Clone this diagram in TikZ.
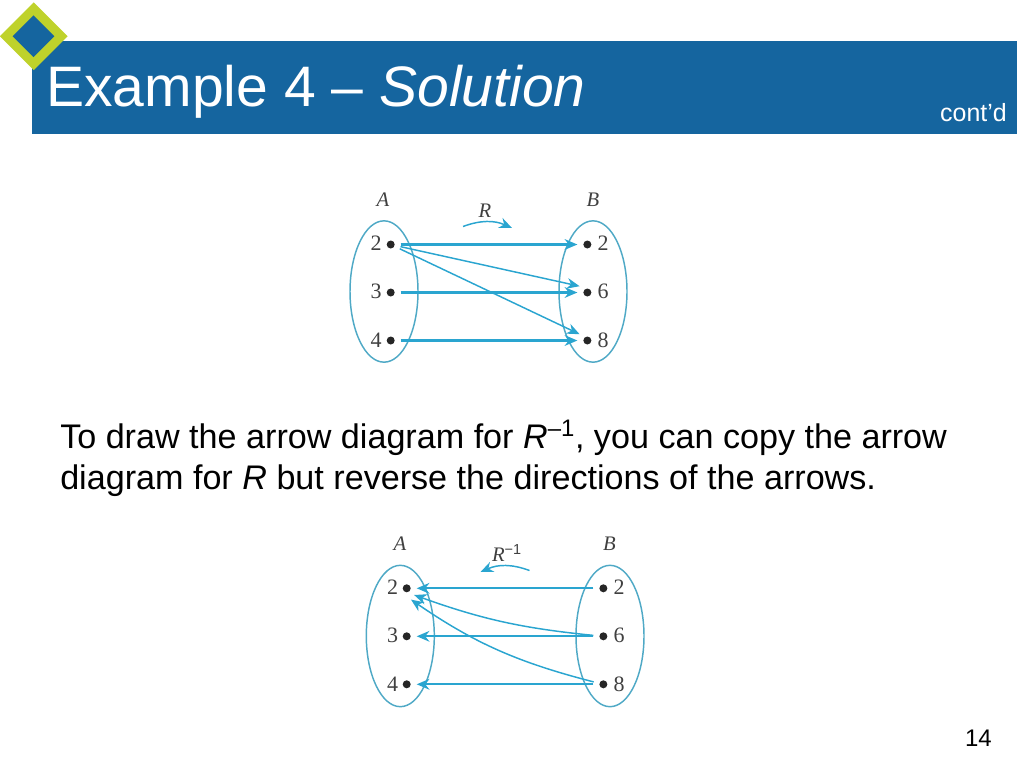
\documentclass[tikz,border=0pt]{standalone}
\usepackage{fontspec}
\setmainfont{Liberation Sans}
\newfontfamily\figfont{Liberation Serif}
\usetikzlibrary{arrows.meta,shapes.geometric}
\definecolor{bandblue}{HTML}{15659F}
\definecolor{limegreen}{HTML}{BFD22B}
\definecolor{arrowblue}{HTML}{2AA5D0}
\definecolor{setblue}{HTML}{4FA9C6}
\tikzstyle{dot_node} = [circle, fill=black!85, inner sep=0pt, minimum size=6pt, outer sep=4.5pt]
\tikzstyle{num_label} = [inner sep=0pt, font=\figfont\fontsize{16.5}{16.5}\selectfont, text=black!75]
\tikzstyle{set_label} = [inner sep=0pt, font=\figfont\itshape\fontsize{15.5}{15.5}\selectfont, text=black!75]
\tikzstyle{set_node} = [ellipse, draw=setblue, line width=1.1pt, inner sep=0pt, minimum width=51pt, minimum height=106pt]
\tikzstyle{arrow} = [draw=arrowblue, line width=1.1pt, ->, >={Stealth[length=9.5pt,width=8pt]}]
\tikzstyle{flat_arrow} = [arrow, line width=1.6pt]

\begin{document}
\begin{tikzpicture}[x=0.75pt, y=-0.75pt, node distance=36pt]
    \useasboundingbox (0,0) rectangle (1024,767);

    % title band
    \node (band) [fill=bandblue, inner sep=0pt, minimum width=738.75pt, minimum height=69.75pt] at (524.5,87.5) {};
    \node (outer) [diamond, fill=limegreen, inner sep=0pt, minimum width=51pt, minimum height=51pt] at (33.8,36.3) {};
    \node (inner) [diamond, fill=bandblue, inner sep=0pt, minimum width=31.5pt, minimum height=31.5pt] at (33.5,36.3) {};
    \node (title) [anchor=base west, inner sep=0pt, text=white, font=\fontsize{42.8}{42.8}\selectfont] at (46,107) {Example 4 -- \textit{Solution}};
    \node (contd) [anchor=base east, inner sep=0pt, text=white, font=\fontsize{18.7}{18.7}\selectfont] at (1007,122) {cont’d};

    % relation R
    \node (ra2) [dot_node] at (390.7,244.5) {};
    \node (ra3) [dot_node, below of=ra2] {};
    \node (ra4) [dot_node, below of=ra3] {};
    \node (rb2) [dot_node, right of=ra2, node distance=147.5pt] {};
    \node (rb6) [dot_node, below of=rb2] {};
    \node (rb8) [dot_node, below of=rb6] {};
    \node (rseta) [set_node] at (384,291.5) {};
    \node (rsetb) [set_node] at (593,291.5) {};

    \node (ra2t) [num_label] at (376,243.5) {2};
    \node (ra3t) [num_label] at (376,291.5) {3};
    \node (ra4t) [num_label] at (376,340) {4};
    \node (rb2t) [num_label] at (603,243.5) {2};
    \node (rb6t) [num_label] at (603,291.5) {6};
    \node (rb8t) [num_label] at (603,340) {8};
    \node (rnamea) [set_label] at (383,200) {A};
    \node (rnameb) [set_label] at (593,200) {B};
    \node (rname) [set_label] at (485,211) {R};

    \draw [flat_arrow] (ra2) -- (rb2);
    \draw [arrow] (ra2) -- (rb6.141);
    \draw [arrow] (ra2) -- (rb8.141);
    \draw [flat_arrow] (ra3) -- (rb6);
    \draw [flat_arrow] (ra4) -- (rb8);
    \coordinate (rbend1) at (463,226.5);
    \coordinate (rbend2) at (512,228);
    \draw [arrow] (rbend1) to[bend left=22] (rbend2);

    % inverse relation
    \node (sa2) [dot_node] at (406.7,588.3) {};
    \node (sa3) [dot_node, below of=sa2] {};
    \node (sa4) [dot_node, below of=sa3] {};
    \node (sb2) [dot_node, right of=sa2, node distance=147.5pt] {};
    \node (sb6) [dot_node, below of=sb2] {};
    \node (sb8) [dot_node, below of=sb6] {};
    \node (sseta) [set_node] at (400.3,636) {};
    \node (ssetb) [set_node] at (610,636) {};

    \node (sa2t) [num_label] at (392.7,587.5) {2};
    \node (sa3t) [num_label] at (392.7,635.5) {3};
    \node (sa4t) [num_label] at (392.7,684) {4};
    \node (sb2t) [num_label] at (619,587.5) {2};
    \node (sb6t) [num_label] at (619,635.5) {6};
    \node (sb8t) [num_label] at (619,684) {8};
    \node (snamea) [set_label] at (400,544) {A};
    \node (snameb) [set_label] at (609.5,544) {B};
    \node (sname) [set_label] at (507,553) {R\textsuperscript{\normalfont −1}};

    \draw [flat_arrow] (sb2) -- (sa2);
    \draw [arrow] (sb6) to[bend left=7] (sa2.-42);
    \draw [flat_arrow] (sb6) -- (sa3);
    \draw [arrow, shorten >=2pt] (sb8) to[bend left=10] (sa2.-78);
    \draw [flat_arrow] (sb8) -- (sa4);
    \coordinate (sbend1) at (529.5,570.5);
    \coordinate (sbend2) at (480.5,572);
    \draw [arrow] (sbend1) to[bend right=22] (sbend2);

    % body text and page number
    \node (bodytext) [anchor=base west, inner sep=0pt, align=left, font=\fontsize{25.6}{30.6}\selectfont] at (60,489) {To draw the arrow diagram for \textit{R}\textsuperscript{–1}, you can copy the arrow\\diagram for \textit{R} but reverse the directions of the arrows.};
    \node (pagenum) [anchor=base east, inner sep=0pt, font=\fontsize{18}{18}\selectfont] at (992,746) {14};
\end{tikzpicture}
\end{document}
